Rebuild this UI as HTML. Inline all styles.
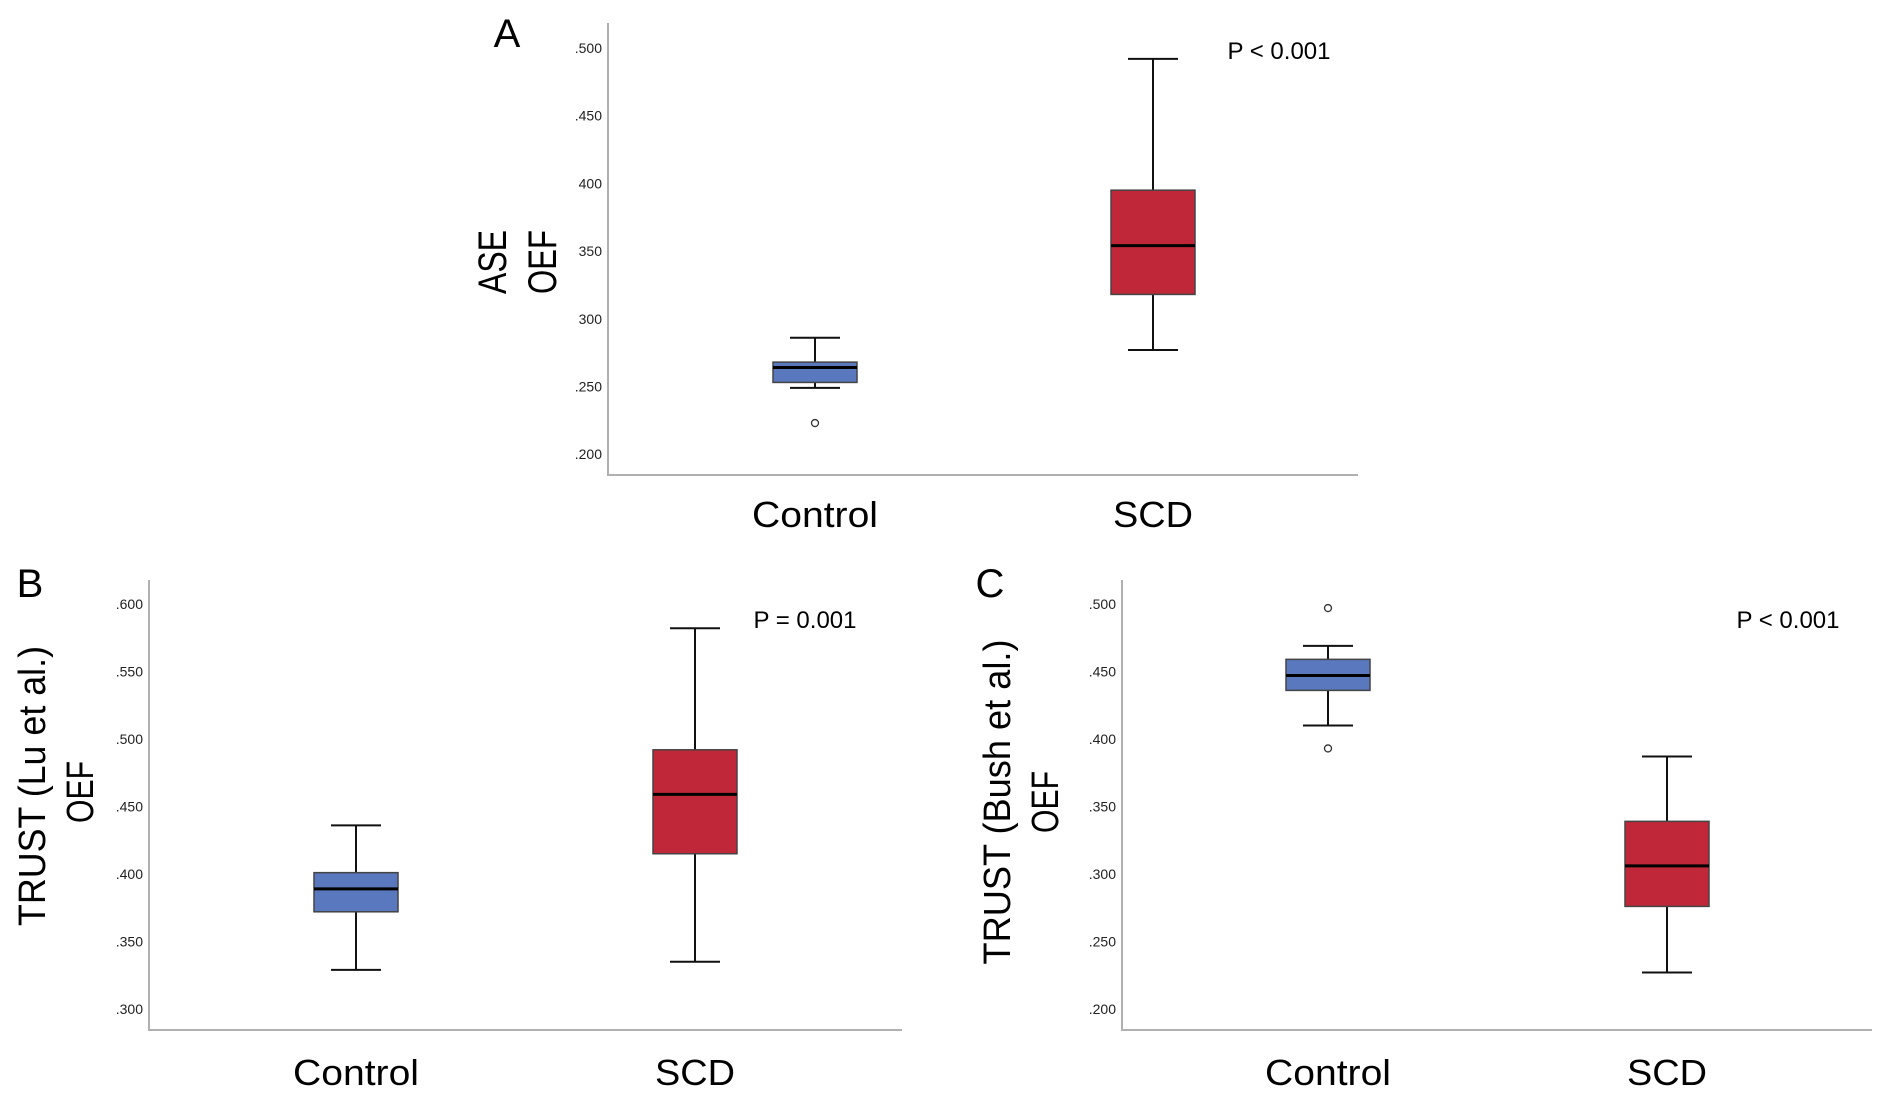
<!DOCTYPE html>
<html><head><meta charset="utf-8"><style>
html,body{margin:0;padding:0;background:#fff;}
svg{display:block;font-family:"Liberation Sans",sans-serif;}
</style></head><body>
<svg id="fig" width="1882" height="1108" viewBox="0 0 1882 1108" xmlns="http://www.w3.org/2000/svg"></svg>
<script>
// Data
const categories = ["Control", "SCD"];
// Panel A (ASE OEF): [lowerWhisker, q1, median, q3, upperWhisker]
const aControl = [0.249, 0.253, 0.264, 0.268, 0.286];
const aSCD = [0.277, 0.318, 0.354, 0.395, 0.492];
const aOutliers = [[0, 0.223]];
const aTicks = [0.5, 0.45, 0.4, 0.35, 0.3, 0.25, 0.2];
const aTickLabels = [".500", ".450", "400", "350", "300", ".250", ".200"];
// Panel B (TRUST Lu)
const bControl = [0.329, 0.372, 0.389, 0.401, 0.436];
const bSCD = [0.335, 0.415, 0.459, 0.492, 0.582];
const bOutliers = [];
const bTicks = [0.6, 0.55, 0.5, 0.45, 0.4, 0.35, 0.3];
const bTickLabels = [".600", ".550", ".500", ".450", ".400", ".350", ".300"];
// Panel C (TRUST Bush)
const cControl = [0.410, 0.436, 0.447, 0.459, 0.469];
const cSCD = [0.227, 0.276, 0.306, 0.339, 0.387];
const cOutliers = [[0, 0.497], [0, 0.393]];
const cTicks = [0.5, 0.45, 0.4, 0.35, 0.3, 0.25, 0.2];
const cTickLabels = [".500", ".450", ".400", ".350", ".300", ".250", ".200"];

const NS = "http://www.w3.org/2000/svg";
const svg = document.getElementById("fig");
function el(tag, attrs, parent) {
  const e = document.createElementNS(NS, tag);
  for (const k in attrs) e.setAttribute(k, attrs[k]);
  (parent || svg).appendChild(e);
  return e;
}
function txt(s, attrs, parent) { const t = el("text", attrs, parent); t.textContent = s; return t; }

function panel(cfg) {
  const g = el("g", {});
  
  
  const y = v => cfg.yTop + (cfg.vTop - v) / 0.05 * cfg.step;
  const ax = el("path", {d: `M${cfg.ax} ${cfg.axTop} V${cfg.axBot} H${cfg.axRight}`, stroke: "#b0b0b0", "stroke-width": 2, fill: "none"}, g);
  
  
  cfg.ticks.forEach((v, i) => {
    const t = txt(cfg.tickLabels[i], {x: cfg.ax - 6, y: y(v) + 5, "font-size": 14, "text-anchor": "end", fill: "#222"}, g);
    
    
  });
  const series = [cfg.control, cfg.scd];
  const colors = ["#5a78bd", "#c0283a"];
  const catLen = [126, 80];
  series.forEach((s, i) => {
    const cx = cfg.cx[i], hw = cfg.hw, cw = 25;
    const bg = el("g", {}, g);
    
    
    el("line", {x1: cx, x2: cx, y1: y(s[4]), y2: y(s[0]), stroke: "#111", "stroke-width": 2}, bg);
    el("line", {x1: cx - cw, x2: cx + cw, y1: y(s[4]), y2: y(s[4]), stroke: "#111", "stroke-width": 2}, bg);
    el("line", {x1: cx - cw, x2: cx + cw, y1: y(s[0]), y2: y(s[0]), stroke: "#111", "stroke-width": 2}, bg);
    el("rect", {x: cx - hw, y: y(s[3]), width: 2 * hw, height: y(s[1]) - y(s[3]), fill: colors[i], stroke: "#444", "stroke-width": 1.5}, bg);
    el("line", {x1: cx - hw, x2: cx + hw, y1: y(s[2]), y2: y(s[2]), stroke: "#000", "stroke-width": 3}, bg);
    const lab = txt(categories[i], {x: cx, y: cfg.catY, "font-size": 36, "text-anchor": "middle", fill: "#000", textLength: catLen[i], lengthAdjust: "spacingAndGlyphs"}, g);
    
    
  });
  cfg.outliers.forEach(o => {
    const c = el("circle", {cx: cfg.cx[o[0]], cy: y(o[1]), r: 3.5, fill: "#fff", stroke: "#333", "stroke-width": 1.3}, g);
    
    
  });
  const p = txt(cfg.pText, {x: cfg.pX, y: cfg.pY, "font-size": 24, "text-anchor": "middle", fill: "#000"}, g);
  
  
  const L = txt(cfg.letter, {x: cfg.letterX, y: cfg.letterY, "font-size": 40, "text-anchor": "middle", fill: "#000"}, g);
  
  
  cfg.titles.forEach(t => {
    const tt = txt(t.s, {x: 0, y: 0, "font-size": t.fs, "text-anchor": "middle", fill: "#000", transform: `translate(${t.x},${t.y}) rotate(-90)`, textLength: t.len, lengthAdjust: "spacingAndGlyphs"}, g);
    
    
  });
}

panel({name: "panel-a", yTop: 48, vTop: 0.5, step: 67.7, ax: 608, axTop: 23, axBot: 475, axRight: 1358,
  ticks: aTicks, tickLabels: aTickLabels, control: aControl, scd: aSCD, outliers: aOutliers,
  cx: [815, 1153], hw: 42, catY: 527, pText: "P < 0.001", pX: 1279, pY: 59,
  letter: "A", letterX: 507, letterY: 47,
  titles: [{s: "ASE", x: 506, y: 262, fs: 40, len: 64}, {s: "OEF", x: 556, y: 262, fs: 40, len: 64}]});

panel({name: "panel-b", yTop: 604, vTop: 0.6, step: 67.5, ax: 149, axTop: 580, axBot: 1030, axRight: 902,
  ticks: bTicks, tickLabels: bTickLabels, control: bControl, scd: bSCD, outliers: bOutliers,
  cx: [356, 695], hw: 42, catY: 1085, pText: "P = 0.001", pX: 805, pY: 628,
  letter: "B", letterX: 30, letterY: 597,
  titles: [{s: "TRUST (Lu et al.)", x: 45, y: 786, fs: 38, len: 280}, {s: "OEF", x: 93, y: 792, fs: 38, len: 62}]});

panel({name: "panel-c", yTop: 604, vTop: 0.5, step: 67.5, ax: 1122, axTop: 580, axBot: 1030, axRight: 1872,
  ticks: cTicks, tickLabels: cTickLabels, control: cControl, scd: cSCD, outliers: cOutliers,
  cx: [1328, 1667], hw: 42, catY: 1085, pText: "P < 0.001", pX: 1788, pY: 628,
  letter: "C", letterX: 990, letterY: 597,
  titles: [{s: "TRUST (Bush et al.)", x: 1010, y: 802, fs: 38, len: 325}, {s: "OEF", x: 1058, y: 802, fs: 38, len: 62}]});
</script>
</body></html>
